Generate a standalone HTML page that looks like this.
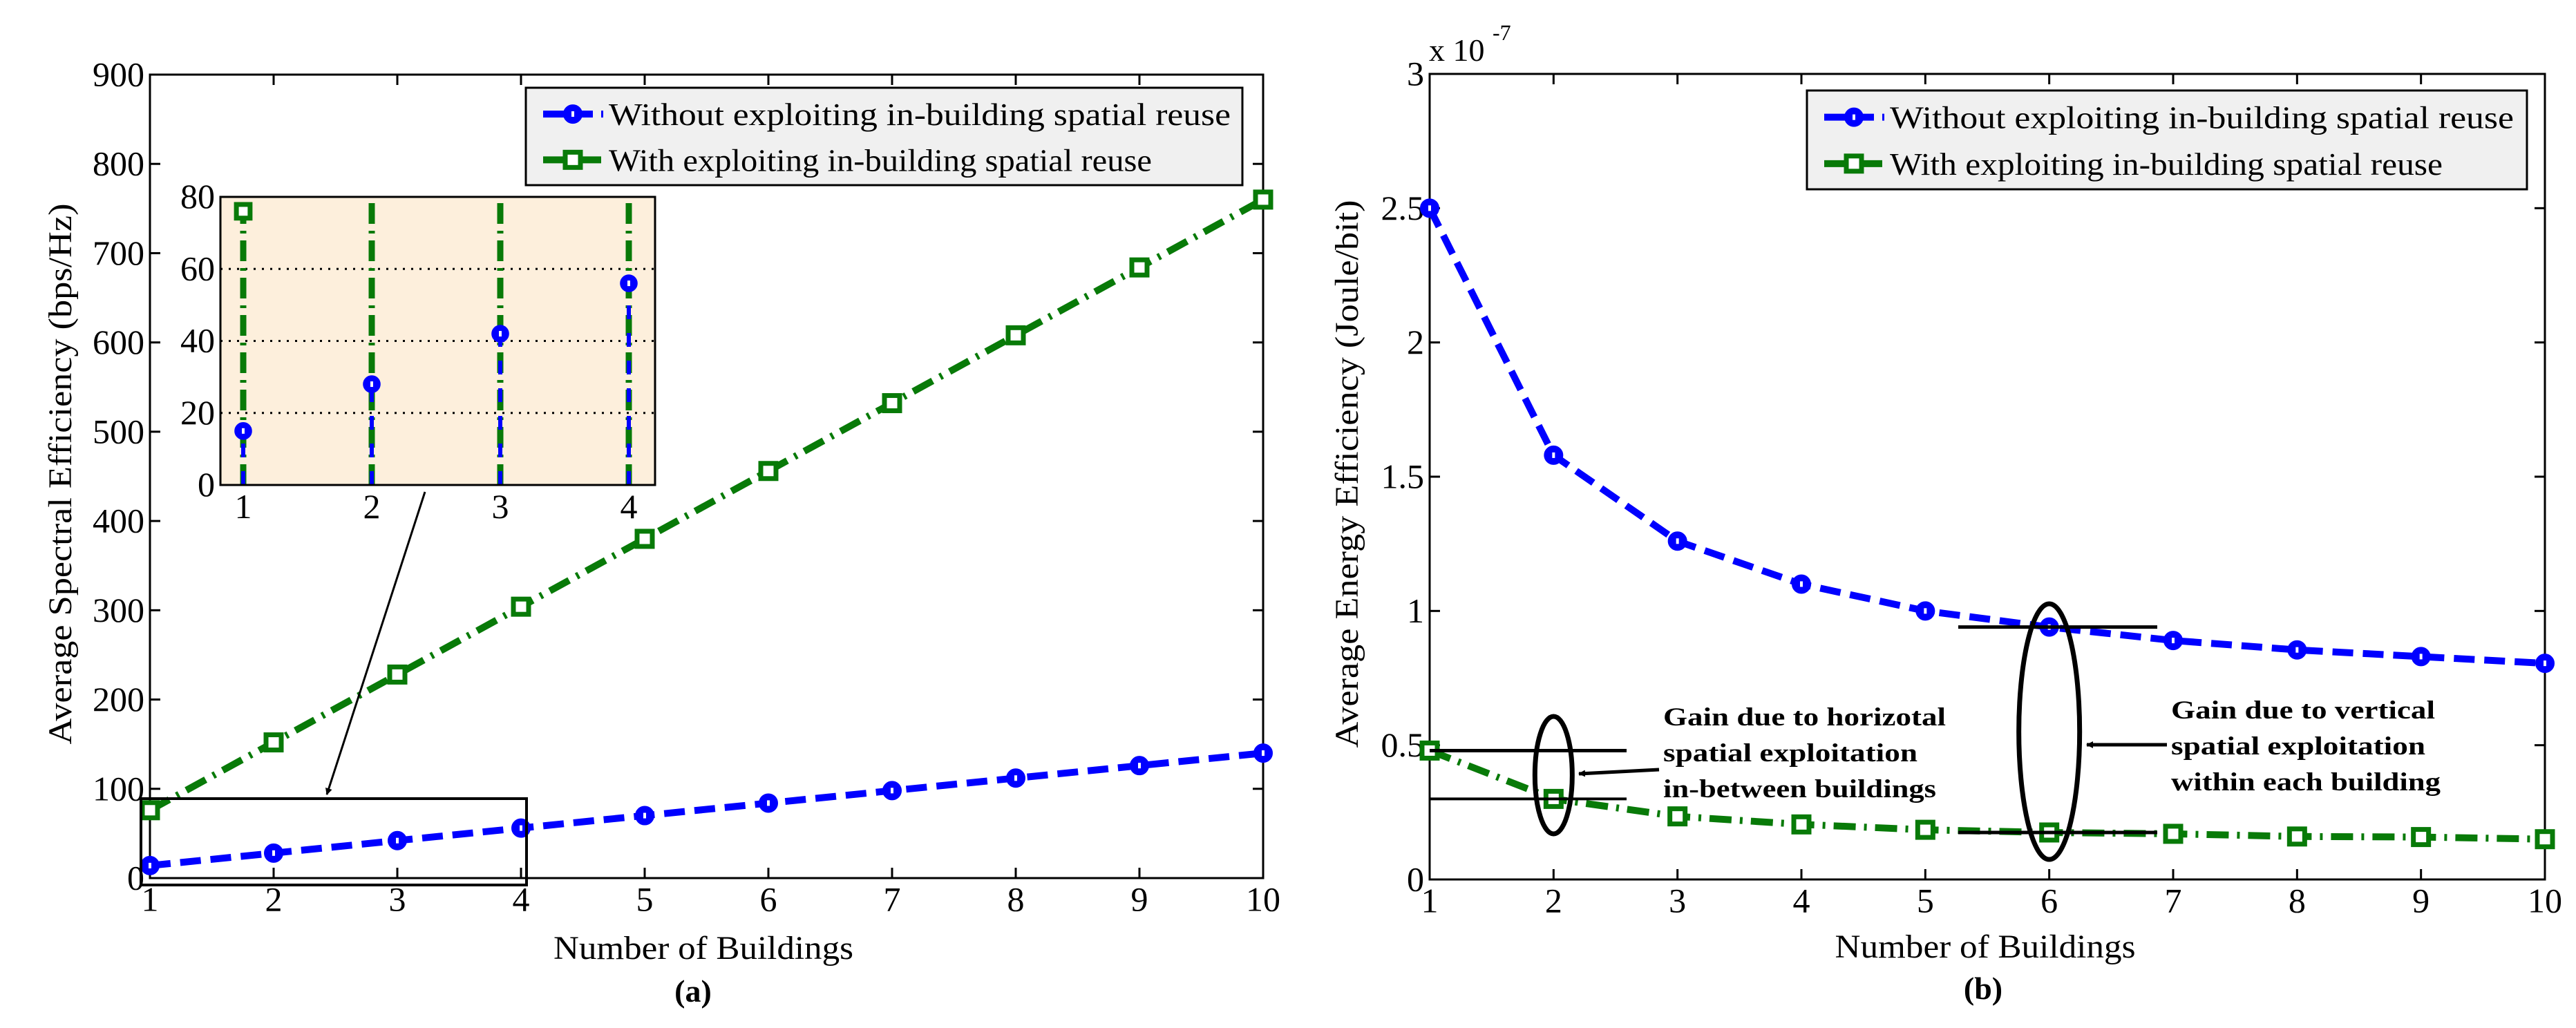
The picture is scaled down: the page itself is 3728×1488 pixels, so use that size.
<!DOCTYPE html>
<html><head><meta charset="utf-8"><style>
html,body{margin:0;padding:0;background:#fff;}
svg{display:block;}
text{font-family:"Liberation Serif",serif;fill:#000;}
</style></head><body>
<svg id="fig" width="3728" height="1488" viewBox="0 0 3728 1488" xmlns="http://www.w3.org/2000/svg">
<defs>
<clipPath id="clipA"><rect x="217" y="108" width="1611" height="1163"/></clipPath>
<clipPath id="clipIn"><rect x="319" y="285" width="629" height="417"/></clipPath>
<clipPath id="clipB"><rect x="2069" y="107" width="1614" height="1166"/></clipPath>
<marker id="arrowhead" markerWidth="10" markerHeight="10" refX="9" refY="5" orient="auto" markerUnits="userSpaceOnUse"><path d="M0,0 L10,5 L0,10 z" fill="#000"/></marker>
</defs>
<g id="plotA"></g>
<g id="plotB"></g>
</svg>
<script>
// ---- Data ----
const buildings = [1,2,3,4,5,6,7,8,9,10];
const seWithout = [14,28,42,56,70,84,98,112,126,140];
const seWith = [76,152,228,304,380,456,532,608,684,760];
const seTicks = [0,100,200,300,400,500,600,700,800,900];
const insetBuildings = [1,2,3,4];
const insetWithout = [15,28,42,56];
const insetWith = [76,152,228,304];
const insetTicks = [0,20,40,60,80];
const eeWithout = [2.5,1.58,1.26,1.1,1.0,0.94,0.89,0.855,0.83,0.805];
const eeWith = [0.48,0.3,0.235,0.205,0.185,0.175,0.17,0.16,0.158,0.15];
const eeTicks = [0,0.5,1,1.5,2,2.5,3];
const eeTickLabels = ['0','0.5','1','1.5','2','2.5','3'];
const legendLabels = ['Without exploiting in-building spatial reuse','With exploiting in-building spatial reuse'];

const NS='http://www.w3.org/2000/svg';
function mk(parent, tag, attrs, txt){
  const e=document.createElementNS(NS,tag);
  for(const k in attrs) e.setAttribute(k,attrs[k]);
  if(txt!==undefined) e.textContent=txt;
  parent.appendChild(e);
  return e;
}
const BLUE='#0000ff', GREEN='#087a08';

function marker(g, type, x, y, s){
  if(type==='circle'){
    const c=mk(g,'circle',{cx:x,cy:y,r:12*s,fill:BLUE,stroke:BLUE,'stroke-width':4});
    
    
    mk(g,'rect',{x:x-2,y:y-4,width:4,height:8,fill:'#fff'});
  } else {
    const r=mk(g,'rect',{x:x-11*s,y:y-11*s,width:22*s,height:22*s,fill:'#fff',stroke:GREEN,'stroke-width':7});
    
    
  }
}

function axesBox(g, L, R, T, B, xs, xsLabels, xf, ys, ysLabels, yf, fs){
  mk(g,'rect',{x:L,y:T,width:R-L,height:B-T,fill:'none',stroke:'#000','stroke-width':3});
  xs.forEach((v,i)=>{
    const x=xf(v);
    mk(g,'line',{x1:x,y1:B,x2:x,y2:B-15,stroke:'#000','stroke-width':3});
    mk(g,'line',{x1:x,y1:T,x2:x,y2:T+15,stroke:'#000','stroke-width':3});
    const t=mk(g,'text',{x:x,y:B+fs*0.95,'font-size':fs,'text-anchor':'middle'},xsLabels[i]);
    
    
  });
  ys.forEach((v,i)=>{
    const y=yf(v);
    mk(g,'line',{x1:L,y1:y,x2:L+15,y2:y,stroke:'#000','stroke-width':3});
    mk(g,'line',{x1:R,y1:y,x2:R-15,y2:y,stroke:'#000','stroke-width':3});
    const t=mk(g,'text',{x:L-8,y:y+fs*0.33,'font-size':fs,'text-anchor':'end'},ysLabels[i]);
    
    
  });
}

function path(g, xf, yf, xs, ys, color, dash, name, clip){
  const d=xs.map((x,i)=>(i?'L':'M')+xf(x).toFixed(1)+','+yf(ys[i]).toFixed(1)).join(' ');
  const p=mk(g,'path',{d:d,fill:'none',stroke:color,'stroke-width':10,'stroke-dasharray':dash,'clip-path':clip});
  
  
}

function legend(g, x, y, w, h, textLen){
  const lg=mk(g,'g',{});
  
  
  mk(lg,'rect',{x:x,y:y,width:w,height:h,fill:'#f0f0f0',stroke:'#000','stroke-width':3});
  const rows=[y+h*0.27,y+h*0.74];
  const e1=mk(lg,'g',{});
  
  
  mk(e1,'line',{x1:x+25,y1:rows[0],x2:x+112,y2:rows[0],stroke:BLUE,'stroke-width':10,'stroke-dasharray':'30 12'});
  marker(e1,'circle',x+68,rows[0],1);
  mk(e1,'text',{x:x+120,y:rows[0]+16,'font-size':46,textLength:textLen[0],lengthAdjust:'spacingAndGlyphs'},legendLabels[0]);
  const e2=mk(lg,'g',{});
  
  
  mk(e2,'line',{x1:x+25,y1:rows[1],x2:x+112,y2:rows[1],stroke:GREEN,'stroke-width':10,'stroke-dasharray':'30 10 4 10'});
  marker(e2,'square',x+68,rows[1],1);
  mk(e2,'text',{x:x+120,y:rows[1]+16,'font-size':46,textLength:textLen[1],lengthAdjust:'spacingAndGlyphs'},legendLabels[1]);
}

// ---------- Plot A ----------
(function(){
  const g=document.getElementById('plotA');
  const L=217,R=1828,T=108,B=1271;
  const xf=v=>L+(v-1)/9*(R-L);
  const yf=v=>B-v/900*(B-T);
  axesBox(g,L,R,T,B,buildings,buildings.map(String),xf,seTicks,seTicks.map(String),yf,50);
  path(g,xf,yf,buildings,seWith,GREEN,'32 12 4 12','series-with-reuse','url(#clipA)');
  path(g,xf,yf,buildings,seWithout,BLUE,'30 14','series-without-reuse','url(#clipA)');
  buildings.forEach((b,i)=>{marker(g,'square',xf(b),yf(seWith[i]),1);});
  buildings.forEach((b,i)=>{marker(g,'circle',xf(b),yf(seWithout[i]),1);});
  // zoom box
  const zb=mk(g,'rect',{x:204,y:1156,width:558,height:125,fill:'none',stroke:'#000','stroke-width':4});
  
  
  const ar=mk(g,'line',{x1:615,y1:712,x2:473,y2:1150,stroke:'#000','stroke-width':3,'marker-end':'url(#arrowhead)'});
  
  
  legend(g,761,127,1037,141,[900,786]);
  // inset
  const ig=mk(g,'g',{});
  
  
  const iL=319,iR=948,iT=285,iB=702;
  const ixf=v=>352+(v-1)*186;
  const iyf=v=>iB-v/80*(iB-iT);
  mk(ig,'rect',{x:iL,y:iT,width:iR-iL,height:iB-iT,fill:'#fdefdc'});
  insetTicks.forEach(v=>{ if(v>0) mk(ig,'line',{x1:iL,y1:iyf(v),x2:iR,y2:iyf(v),stroke:'#000','stroke-width':3,'stroke-dasharray':'3 9'});});
  insetBuildings.forEach((b,i)=>{
    const x=ixf(b);
    const gl=mk(ig,'line',{x1:x,y1:iB,x2:x,y2:iyf(Math.min(insetWith[i],85)),stroke:GREEN,'stroke-width':9,'stroke-dasharray':'30 10 4 10','clip-path':'url(#clipIn)'});
    
    
    const bl=mk(ig,'line',{x1:x,y1:iB,x2:x,y2:iyf(insetWithout[i]),stroke:BLUE,'stroke-width':6,'stroke-dasharray':'20 20'});
    
    
  });
  insetBuildings.forEach((b,i)=>{ if(insetWith[i]<=80) marker(ig,'square',ixf(b),iyf(insetWith[i]),0.9);});
  insetBuildings.forEach((b,i)=>{ marker(ig,'circle',ixf(b),iyf(insetWithout[i]),0.9);});
  mk(ig,'rect',{x:iL,y:iT,width:iR-iL,height:iB-iT,fill:'none',stroke:'#000','stroke-width':3});
  insetBuildings.forEach(b=>{
    const t=mk(ig,'text',{x:ixf(b),y:iB+48,'font-size':50,'text-anchor':'middle'},String(b));
    
    
  });
  insetTicks.forEach(v=>{
    const t=mk(ig,'text',{x:iL-8,y:iyf(v)+16,'font-size':50,'text-anchor':'end'},String(v));
    
    
  });
  const yl=mk(g,'text',{x:0,y:0,'font-size':48,'text-anchor':'middle',transform:'translate(103,686) rotate(-90)',textLength:783,lengthAdjust:'spacingAndGlyphs'},'Average Spectral Efficiency (bps/Hz)');
  
  
  const xl=mk(g,'text',{x:1018,y:1388,'font-size':48,'text-anchor':'middle',textLength:434,lengthAdjust:'spacingAndGlyphs'},'Number of Buildings');
  
  
  const cap=mk(g,'text',{x:1003,y:1450,'font-size':46,'font-weight':'bold','text-anchor':'middle'},'(a)');
  
  
})();

// ---------- Plot B ----------
(function(){
  const g=document.getElementById('plotB');
  const L=2069,R=3683,T=107,B=1273;
  const xf=v=>L+(v-1)/9*(R-L);
  const yf=v=>B-v/3*(B-T);
  axesBox(g,L,R,T,B,buildings,buildings.map(String),xf,eeTicks,eeTickLabels,yf,50);
  const ex=mk(g,'text',{x:2068,y:88,'font-size':46},'x 10');
  
  
  mk(g,'text',{x:2160,y:58,'font-size':32},'-7');
  path(g,xf,yf,buildings,eeWith,GREEN,'32 12 4 12','series-with-reuse-ee','url(#clipB)');
  path(g,xf,yf,buildings,eeWithout,BLUE,'30 14','series-without-reuse-ee','url(#clipB)');
  buildings.forEach((b,i)=>{marker(g,'square',xf(b),yf(eeWith[i]),1);});
  buildings.forEach((b,i)=>{marker(g,'circle',xf(b),yf(eeWithout[i]),1);});
  legend(g,2615,131,1042,143,[903,800]);
  // annotation 1
  const a1=mk(g,'g',{});
  
  
  mk(a1,'line',{x1:2069,y1:yf(eeWith[0]),x2:2354,y2:yf(eeWith[0]),stroke:'#000','stroke-width':5});
  mk(a1,'line',{x1:2069,y1:yf(eeWith[1]),x2:2354,y2:yf(eeWith[1]),stroke:'#000','stroke-width':4});
  mk(a1,'ellipse',{cx:xf(2),cy:1122,rx:27,ry:85,fill:'none',stroke:'#000','stroke-width':7});
  mk(a1,'line',{x1:2401,y1:1114,x2:2285,y2:1120,stroke:'#000','stroke-width':5,'marker-end':'url(#arrowhead)'});
  ['Gain due to horizotal','spatial exploitation','in-between buildings'].forEach((s,i)=>{
    mk(a1,'text',{x:2407,y:1050+i*52,'font-size':37,'font-weight':'bold',textLength:[409,368,395][i],lengthAdjust:'spacingAndGlyphs'},s);
  });
  // annotation 2
  const a2=mk(g,'g',{});
  
  
  mk(a2,'line',{x1:2834,y1:yf(eeWithout[5]),x2:3122,y2:yf(eeWithout[5]),stroke:'#000','stroke-width':5});
  mk(a2,'line',{x1:2834,y1:yf(eeWith[5]),x2:3122,y2:yf(eeWith[5]),stroke:'#000','stroke-width':5});
  mk(a2,'ellipse',{cx:xf(6),cy:1059,rx:44,ry:185,fill:'none',stroke:'#000','stroke-width':7});
  mk(a2,'line',{x1:3136,y1:1078,x2:3020,y2:1078,stroke:'#000','stroke-width':5,'marker-end':'url(#arrowhead)'});
  ['Gain due to vertical','spatial exploitation','within each building'].forEach((s,i)=>{
    mk(a2,'text',{x:3142,y:1040+i*52,'font-size':37,'font-weight':'bold',textLength:[382,368,390][i],lengthAdjust:'spacingAndGlyphs'},s);
  });
  const yl=mk(g,'text',{x:0,y:0,'font-size':48,'text-anchor':'middle',transform:'translate(1965,686) rotate(-90)',textLength:793,lengthAdjust:'spacingAndGlyphs'},'Average Energy Efficiency (Joule/bit)');
  
  
  const xl=mk(g,'text',{x:2873,y:1386,'font-size':48,'text-anchor':'middle',textLength:435,lengthAdjust:'spacingAndGlyphs'},'Number of Buildings');
  
  
  const cap=mk(g,'text',{x:2870,y:1446,'font-size':46,'font-weight':'bold','text-anchor':'middle'},'(b)');
  
  
})();
</script>
</body></html>
